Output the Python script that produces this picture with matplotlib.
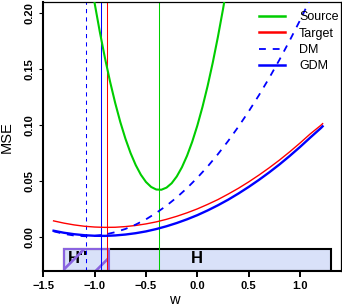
import matplotlib
matplotlib.use("Agg")
import matplotlib.pyplot as plt
from matplotlib.patches import Rectangle

plt.rcParams['font.family'] = ['Liberation Sans', 'DejaVu Sans']
plt.rcParams['hatch.linewidth'] = 1.9
plt.rcParams['hatch.color'] = '#8a63e0'

# ---- data ----
w_src = [-1.05, -1.00, -0.95, -0.90, -0.85, -0.80, -0.75, -0.70, -0.65, -0.60,
         -0.55, -0.50, -0.45, -0.40, -0.35, -0.30, -0.25, -0.20, -0.15, -0.10,
         -0.05, 0.00, 0.05, 0.10, 0.15, 0.20, 0.25, 0.30]
mse_source = [0.2362, 0.2087, 0.1833, 0.1600, 0.1388, 0.1197, 0.1026, 0.0877, 0.0749, 0.0642,
              0.0556, 0.0491, 0.0447, 0.0424, 0.0422, 0.0441, 0.0480, 0.0541, 0.0623, 0.0726,
              0.0850, 0.0995, 0.1161, 0.1348, 0.1556, 0.1785, 0.2034, 0.2305]

w_grid = [-1.4, -1.3, -1.2, -1.1, -1.0, -0.9, -0.8, -0.7, -0.6, -0.5, -0.4, -0.3, -0.2, -0.1,
          0.0, 0.1, 0.2, 0.3, 0.4, 0.5, 0.6, 0.7, 0.8, 0.9, 1.0, 1.1, 1.2, 1.22]
mse_target = [0.0144, 0.0124, 0.0108, 0.0096, 0.0089, 0.0086, 0.0087, 0.0093, 0.0103, 0.0117,
              0.0135, 0.0158, 0.0185, 0.0216, 0.0251, 0.0291, 0.0334, 0.0383, 0.0435, 0.0492,
              0.0553, 0.0618, 0.0687, 0.0761, 0.0839, 0.0921, 0.0995, 0.1012]
mse_dm = [0.0051, 0.0028, 0.0013, 0.0007, 0.0010, 0.0022, 0.0043, 0.0072, 0.0111, 0.0158,
          0.0215, 0.0280, 0.0354, 0.0437, 0.0529, 0.0629, 0.0739, 0.0857, 0.0985, 0.1121,
          0.1266, 0.1420, 0.1583, 0.1755, 0.1935, 0.2125, 0.2323, 0.2363]
mse_gdm = [0.0056, 0.0038, 0.0025, 0.0016, 0.0011, 0.0010, 0.0014, 0.0022, 0.0034, 0.0050,
           0.0071, 0.0096, 0.0125, 0.0158, 0.0195, 0.0237, 0.0283, 0.0333, 0.0388, 0.0447,
           0.0510, 0.0577, 0.0648, 0.0724, 0.0804, 0.0888, 0.0970, 0.0988]

# minimiser lines: DM, GDM, Target, Source
vline_w = [-1.084, -0.935, -0.877, -0.370]

H_range = [-1.3, 1.3]
H2_range = [-1.3, -0.857]
band_y = [-0.03, -0.0105]

xticks = [-1.5, -1.0, -0.5, 0.0, 0.5, 1.0]
xtick_labels = ['\u22121.5', '\u22121.0', '\u22120.5', '0.0', '0.5', '1.0']
yticks = [0.00, 0.05, 0.10, 0.15, 0.20]
ytick_labels = ['0.00', '0.05', '0.10', '0.15', '0.20']

GREEN = '#00cd00'
RED = '#ff0000'
BLUE = '#0000ff'
FILL = '#d9e1f9'
PURPLE = '#8a63e0'

fig = plt.figure(figsize=(3.42, 3.06), dpi=100)
ax = fig.add_axes([43.3 / 342, 1 - 270.6 / 306, (341.1 - 43.3) / 342, (270.6 - 1.8) / 306])
ax.set_xlim(-1.5, 1.4)
ax.set_ylim(-0.03, 0.21)

# rectangles
ax.add_patch(Rectangle((H_range[0], band_y[0]), H_range[1] - H_range[0], band_y[1] - band_y[0],
                       facecolor=FILL, edgecolor='black', lw=1.5, zorder=1))
ax.text(0.0, -0.0232, 'H', fontsize=12, fontweight='bold', ha='center', va='baseline', zorder=1.5)
ax.text(-1.16, -0.0232, "H''", fontsize=12, fontweight='bold', ha='center', va='baseline', zorder=1.5)
ax.add_patch(Rectangle((H2_range[0], band_y[0]), H2_range[1] - H2_range[0], band_y[1] - band_y[0],
                       facecolor='none', edgecolor=PURPLE, lw=1.5, hatch='/', zorder=1.7))

# vertical lines
ax.axvline(vline_w[0], color=BLUE, lw=0.75, dashes=(4, 4), zorder=2)
ax.axvline(vline_w[1], color=BLUE, lw=0.75, zorder=2)
ax.axvline(vline_w[2], color=RED, lw=0.75, zorder=2)
ax.axvline(vline_w[3], color=GREEN, lw=0.75, zorder=2)

# curves
l_src, = ax.plot(w_src, mse_source, color=GREEN, lw=1.5, label='Source', zorder=3)
l_tgt, = ax.plot(w_grid, mse_target, color=RED, lw=1.0, label='Target', zorder=3)
l_dm, = ax.plot(w_grid, mse_dm, color=BLUE, lw=1.3, dashes=(3.8, 3.8), label='DM', zorder=3)
l_gdm, = ax.plot(w_grid, mse_gdm, color=BLUE, lw=1.7, label='GDM', zorder=3)

leg = ax.legend(handles=[l_src, l_tgt, l_dm, l_gdm], loc='upper left',
                bbox_to_anchor=((259 - 43.3) / 297.8, 0.965), frameon=False, fontsize=9,
                handlelength=2.1, handletextpad=1.1, labelspacing=0.35, borderpad=0,
                borderaxespad=0)
for h in leg.get_lines():
    h.set_linewidth(1.8)
leg.get_lines()[2].set_linewidth(1.3)

# axes styling
ax.set_xticks(xticks)
ax.set_xticklabels(xtick_labels, fontsize=8, fontweight='bold')
ax.set_yticks(yticks)
ax.set_yticklabels(ytick_labels, fontsize=8, fontweight='bold', rotation=90, va='center')
ax.tick_params(axis='x', length=4.3, width=1.4, pad=3.5)
ax.tick_params(axis='y', length=3.1, width=0.8, pad=3)
for s in ['left', 'bottom']:
    ax.spines[s].set_linewidth(1.5)
for s in ['top', 'right']:
    ax.spines[s].set_linewidth(0.9)

fig.text(174.7 / 342, 1 - 304 / 306, 'w', fontsize=10.5, ha='center', va='baseline')
fig.text(6.5 / 342, 1 - 137 / 306, 'MSE', fontsize=10.5, ha='center', va='center', rotation=90)

fig.savefig('out.png', dpi=100)
